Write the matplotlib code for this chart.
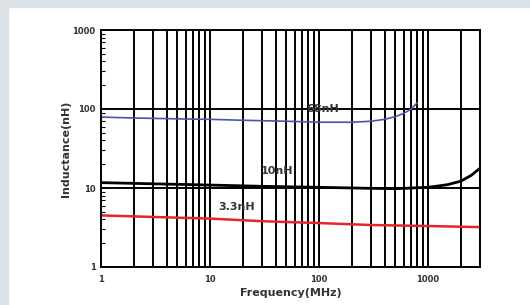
import numpy as np
import matplotlib
matplotlib.use("Agg")
import matplotlib.pyplot as plt
from matplotlib.patches import Rectangle
from matplotlib.ticker import LogLocator, NullFormatter, FixedLocator

# curve data (frequency in MHz, inductance in nH)
f_68 = [1, 2, 5, 10, 20, 50, 100, 200, 300, 400, 500, 600, 700, 800]
l_68 = [79, 77, 75, 74, 72, 70, 68, 68, 70, 74, 80, 88, 100, 120]

f_10 = [1, 3, 10, 30, 100, 300, 500, 1000, 1500, 2000, 2500, 3000]
l_10 = [11.7, 11.3, 10.9, 10.5, 10.2, 9.9, 9.8, 10.2, 11.0, 12.2, 14.5, 17.8]

f_33 = [1, 3, 10, 30, 100, 300, 1000, 3000]
l_33 = [4.5, 4.3, 4.1, 3.8, 3.6, 3.4, 3.3, 3.2]

labels = ["68nH", "10nH", "3.3nH"]
label_pos = [(107, 100), (41, 16.5), (17.5, 5.8)]

xticks = [1, 10, 100, 1000]
xticklabels = ["1", "10", "100", "1000"]
yticks = [1, 10, 100, 1000]
yticklabels = ["1", "10", "100", "1000"]

fig = plt.figure(figsize=(5.3, 3.05), dpi=100)
fig.patch.set_facecolor("white")
# gray frame strips on top and left
fig.patches.append(Rectangle((0, 1 - 7 / 305), 1, 7 / 305, transform=fig.transFigure,
                             color="#dde2e8", zorder=0))
fig.patches.append(Rectangle((0, 0), 8 / 530, 1, transform=fig.transFigure,
                             color="#dde2e8", zorder=0))

ax = fig.add_axes([101 / 530, 1 - 267 / 305, 379 / 530, 237 / 305])
ax.set_xscale("log")
ax.set_yscale("log")
ax.set_xlim(1, 3000)
ax.set_ylim(1, 1000)

# vertical grid at every 1..9 multiple
ax.xaxis.set_major_locator(FixedLocator(xticks))
ax.xaxis.set_minor_locator(LogLocator(base=10, subs=np.arange(2, 10)))
ax.set_xticklabels(xticklabels)
ax.xaxis.set_minor_formatter(NullFormatter())
ax.yaxis.set_major_locator(FixedLocator(yticks))
ax.set_yticklabels(yticklabels)
ax.yaxis.set_minor_locator(LogLocator(base=10, subs=np.arange(2, 10)))
ax.yaxis.set_minor_formatter(NullFormatter())

ax.grid(True, which="both", axis="x", color="black", lw=1.4)
ax.grid(True, which="major", axis="y", color="black", lw=1.4)
ax.tick_params(axis="x", which="both", length=0, labelsize=6, pad=6)
ax.tick_params(axis="y", which="major", length=0, labelsize=6, pad=4)
ax.tick_params(axis="y", which="minor", direction="in", length=3, width=0.8)
for lab in ax.get_xticklabels() + ax.get_yticklabels():
    lab.set_fontweight("bold")
    lab.set_color("#333333")
for s in ax.spines.values():
    s.set_linewidth(1.4)

ax.plot(f_68, l_68, color="#4a55a8", lw=1.2)
ax.plot(f_10, l_10, color="black", lw=2.0)
ax.plot(f_33, l_33, color="#e8232a", lw=1.8)

for txt, (x, y) in zip(labels, label_pos):
    ax.text(x, y, txt, fontsize=8, fontweight="bold", color="#333333",
            ha="center", va="center")

ax.set_xlabel("Frequency(MHz)", fontsize=8, fontweight="bold", color="#333333", labelpad=3)
ax.set_ylabel("Inductance(nH)", fontsize=8, fontweight="bold", color="#333333", labelpad=1)

fig.savefig("out.png", dpi=100)
